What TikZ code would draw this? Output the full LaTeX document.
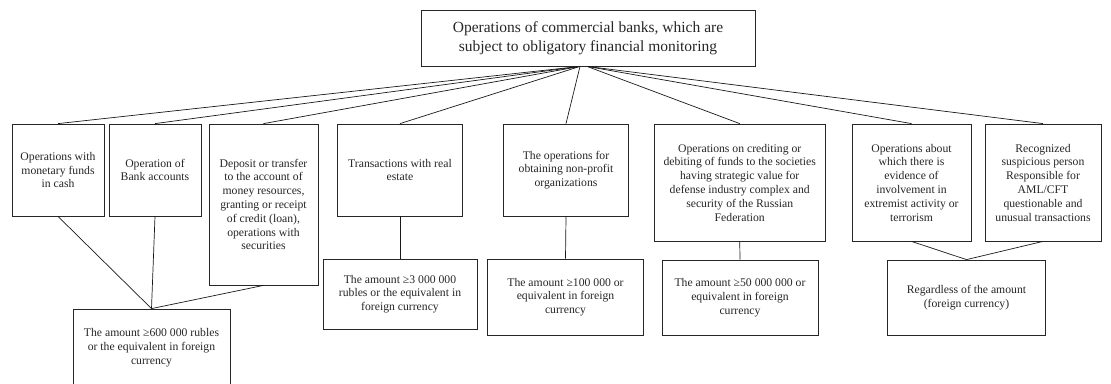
\documentclass[tikz,border=0pt]{standalone}
\usepackage{fontspec}
\setmainfont{Liberation Serif}
\begin{document}
\begin{tikzpicture}[x=1pt,y=-1pt,
  box/.style={draw=black!85, line width=0.8pt, align=center, inner sep=0pt,
    text=black!85, font=\fontsize{11.7}{13.8}\selectfont},
  headbox/.style={box, font=\fontsize{15.5}{19.5}\selectfont},
  link/.style={draw=black!90, line width=0.7pt}]
\useasboundingbox (0,0) rectangle (1111,383);

% root
\node[headbox, minimum width=334pt, minimum height=56pt] (top) at (588,38)
  {Operations of commercial banks, which are\\subject to obligatory financial monitoring};

% kinds of operations
\node[box, minimum width=92pt, minimum height=92pt] (b1) at (58,170)
  {Operations with\\monetary funds\\in cash};
\node[box, minimum width=92pt, minimum height=92pt] (b2) at (155,170)
  {Operation of\\Bank accounts};
\node[box, minimum width=109pt, minimum height=161pt] (b3) at (263.5,204.5)
  {Deposit or transfer\\to the account of\\money resources,\\granting or receipt\\of credit (loan),\\operations with\\securities};
\node[box, minimum width=125.5pt, minimum height=92pt] (b4) at (400,170)
  {Transactions with real\\estate};
\node[box, minimum width=125pt, minimum height=92pt] (b5) at (566,170)
  {The operations for\\obtaining non-profit\\organizations};
\node[box, minimum width=170.5pt, minimum height=117pt] (b6) at (739.75,182.5)
  {Operations on crediting or\\debiting of funds to the societies\\having strategic value for\\defense industry complex and\\security of the Russian\\Federation};
\node[box, minimum width=119pt, minimum height=117pt] (b7) at (911.5,182.5)
  {Operations about\\which there is\\evidence of\\involvement in\\extremist activity or\\terrorism};
\node[box, minimum width=116pt, minimum height=117pt] (b8) at (1043,182.5)
  {Recognized\\suspicious person\\Responsible for\\AML/CFT\\questionable and\\unusual transactions};

% thresholds
\node[box, minimum width=157pt, minimum height=77pt] (a1) at (151.5,347.5)
  {The amount ≥600 000 rubles\\or the equivalent in foreign\\currency};
\node[box, minimum width=154pt, minimum height=70pt] (a2) at (400,294)
  {The amount ≥3 000 000\\rubles or the equivalent in\\foreign currency};
\node[box, minimum width=156pt, minimum height=76pt] (a3) at (565.5,297)
  {The amount ≥100 000 or\\equivalent in foreign\\currency};
\node[box, minimum width=156pt, minimum height=75pt] (a4) at (740,297.5)
  {The amount ≥50 000 000 or\\equivalent in foreign\\currency};
\node[box, minimum width=158pt, minimum height=75pt] (a5) at (966.5,297.5)
  {Regardless of the amount\\(foreign currency)};

% root to operations
\coordinate (hubL) at ([xshift=-8pt]top.south);
\coordinate (hubR) at ([xshift=-1pt]top.south);
\foreach \n in {b1,b2,b3,b4,b5} \draw[link] (hubL) -- (\n.north);
\foreach \n in {b6,b7,b8} \draw[link] (hubR) -- (\n.north);

% operations to thresholds
\foreach \n in {b1,b2,b3} \draw[link] (\n.south) -- (a1.north);
\draw[link] (b4.south) -- (a2.north);
\draw[link] (b5.south) -- (a3.north);
\draw[link] (b6.south) -- (a4.north);
\foreach \n in {b7,b8} \draw[link] (\n.south) -- (a5.north);
\end{tikzpicture}
\end{document}
